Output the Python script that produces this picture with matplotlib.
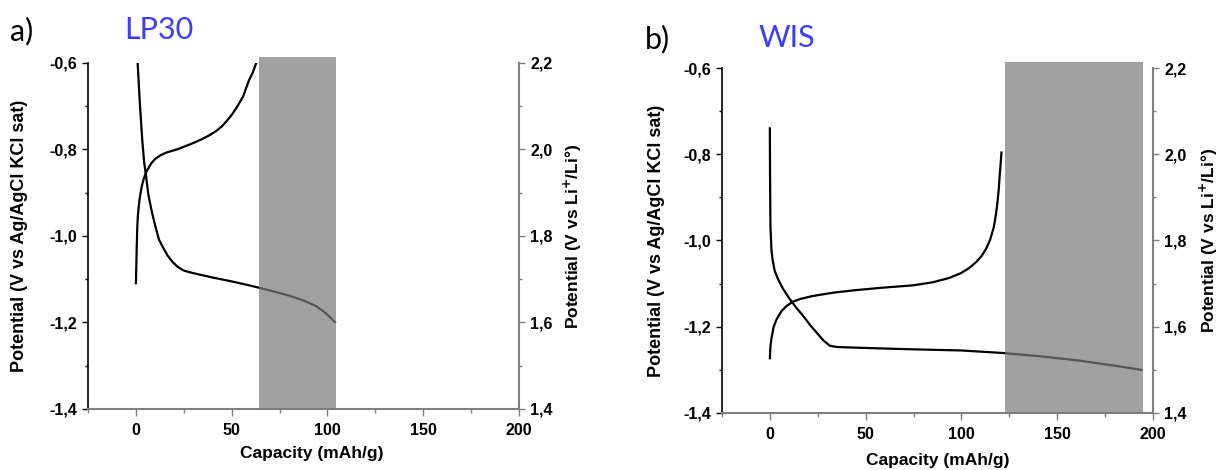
import matplotlib
matplotlib.use("Agg")
import matplotlib.pyplot as plt
from matplotlib.ticker import FuncFormatter, MultipleLocator
from matplotlib.patches import Rectangle

# ---------------- data ----------------
# LP30 panel (a)
lp30_charge_cap = [0, 0.2, 0.4, 0.7, 1.0, 1.5, 2, 3, 4, 5, 6, 8, 10, 13, 16, 19, 22, 26, 30,
                   34, 38, 42, 45, 48, 50, 53, 56, 59, 61, 62.8]
lp30_charge_pot = [-1.109, -1.07, -1.03, -0.98, -0.955, -0.93, -0.912, -0.886, -0.869, -0.856,
                   -0.847, -0.832, -0.822, -0.813, -0.807, -0.803, -0.799, -0.792, -0.785,
                   -0.777, -0.768, -0.757, -0.746, -0.731, -0.720, -0.700, -0.677, -0.640,
                   -0.622, -0.600]
lp30_dis_cap = [0.9, 2.0, 3.3, 4.3, 5.1, 6.5, 8.5, 10, 12, 14.2, 16.5, 19.3, 22, 25, 30, 40,
                50, 60, 70, 80, 88, 94, 99, 103.9]
lp30_dis_pot = [-0.600, -0.690, -0.778, -0.830, -0.855, -0.905, -0.948, -0.975, -1.008, -1.027,
                -1.045, -1.061, -1.072, -1.080, -1.086, -1.096, -1.105, -1.115, -1.126, -1.138,
                -1.150, -1.162, -1.178, -1.199]
lp30_region = [64.5, 104.5]

# WIS panel (b)
wis_dis_cap = [0, 0.05, 0.1, 0.3, 0.8, 1.4, 2.5, 4.3, 7, 10.4, 14, 17.4, 21, 24.3, 28, 31.3, 35,
               48.6, 71.2, 100, 122, 140, 160.6, 181, 194]
wis_dis_pot = [-0.740, -0.800, -0.851, -0.967, -1.020, -1.044, -1.070, -1.090, -1.113, -1.136,
               -1.157, -1.175, -1.196, -1.213, -1.232, -1.244, -1.247, -1.249, -1.252, -1.255,
               -1.261, -1.268, -1.278, -1.291, -1.300]
wis_charge_cap = [0, 0.3, 0.9, 2, 3.5, 6, 8.7, 12, 15.6, 22, 33, 45, 57.3, 74.7, 85, 93.5, 99.6,
                  104, 107.7, 110.5, 112.8, 115, 116.9, 118, 118.9, 119.5, 119.9, 120.5, 120.9]
wis_charge_pot = [-1.273, -1.245, -1.225, -1.200, -1.183, -1.164, -1.152, -1.142, -1.136,
                  -1.129, -1.121, -1.115, -1.110, -1.104, -1.097, -1.087, -1.076, -1.064,
                  -1.050, -1.036, -1.020, -0.998, -0.969, -0.940, -0.908, -0.880, -0.854,
                  -0.820, -0.796]
wis_region = [122.6, 195.0]

left_ylim = [-1.4, -0.6]
right_ylim = [1.4, 2.2]
xlim = [-25, 200]
xticks = [0, 50, 100, 150, 200]

panel_letters = ["a)", "b)"]
panel_names = ["LP30", "WIS"]

# ---------------- figure ----------------
fig = plt.figure(figsize=(12.21, 4.70), dpi=100)
plt.rcParams['font.family'] = ['Liberation Sans', 'DejaVu Sans']

comma = FuncFormatter(lambda v, p: f"{v:.1f}".replace(".", ","))
intfmt = FuncFormatter(lambda v, p: f"{v:.0f}")

axes_pos = [[0.0721, 0.1298, 0.3530, 0.7362], [0.5913, 0.1213, 0.3530, 0.7340]]
regions = [lp30_region, wis_region]
curves = [
    [(lp30_charge_cap, lp30_charge_pot), (lp30_dis_cap, lp30_dis_pot)],
    [(wis_charge_cap, wis_charge_pot), (wis_dis_cap, wis_dis_pot)],
]
rect_tops = [-0.586, -0.585]
letter_pos = [(0.008, 0.934), (0.528, 0.917)]
name_pos = [(0.102, 0.936), (0.621, 0.920)]
xlabel_xy = [(0.52, -0.107), (0.50, -0.116)]
ylabel_left_x = [-0.139, -0.133]
ylabel_right_x = [1.10, 1.104]

grey = "#7f7f7f"
tick_fs = 11.5
for i in range(2):
    ax = fig.add_axes(axes_pos[i])
    for cap, pot in curves[i]:
        ax.plot(cap, pot, color="black", lw=1.6, zorder=2)
    r0, r1 = regions[i]
    ax.add_patch(Rectangle((r0, left_ylim[0]), r1 - r0, rect_tops[i] - left_ylim[0],
                           facecolor="#7a7a7a", alpha=0.7, edgecolor="none",
                           zorder=3, clip_on=False))
    ax.set_xlim(xlim)
    ax.set_ylim(left_ylim)
    ax.set_xticks(xticks)
    ax.xaxis.set_minor_locator(MultipleLocator(25))
    ax.yaxis.set_major_locator(MultipleLocator(0.2))
    ax.yaxis.set_minor_locator(MultipleLocator(0.1))
    ax.yaxis.set_major_formatter(comma)
    ax.xaxis.set_major_formatter(intfmt)
    ax.spines['top'].set_visible(False)
    ax.spines['right'].set_visible(False)
    ax.spines['left'].set_color("black")
    ax.spines['bottom'].set_color(grey)
    ax.spines['left'].set_linewidth(1.2)
    ax.spines['bottom'].set_linewidth(1.5)
    ax.tick_params(axis='y', which='major', length=4, width=1, direction='out',
                   labelsize=tick_fs, color='black', pad=4)
    ax.tick_params(axis='y', which='minor', length=2.5, width=1, direction='out', color='black')
    ax.tick_params(axis='x', which='major', length=5, width=1, direction='out',
                   labelsize=tick_fs, color=grey, pad=5)
    ax.tick_params(axis='x', which='minor', length=3, width=1, direction='out', color=grey)
    for lab in ax.get_xticklabels() + ax.get_yticklabels():
        lab.set_fontweight('bold')
    ax.set_xlabel("Capacity (mAh/g)", fontsize=12.5, fontweight='bold')
    ax.xaxis.set_label_coords(*xlabel_xy[i])
    ax.set_ylabel("Potential (V vs Ag/AgCl KCl sat)", fontsize=13, fontweight='bold')
    ax.yaxis.set_label_coords(ylabel_left_x[i], 0.5)

    ax2 = ax.twinx()
    ax2.set_ylim(right_ylim)
    ax2.yaxis.set_major_locator(MultipleLocator(0.2))
    ax2.yaxis.set_minor_locator(MultipleLocator(0.1))
    ax2.yaxis.set_major_formatter(comma)
    for s in ['top', 'left', 'bottom']:
        ax2.spines[s].set_visible(False)
    ax2.spines['right'].set_color(grey)
    ax2.spines['right'].set_linewidth(1.5)
    ax2.tick_params(axis='y', which='major', length=4, width=1, direction='out',
                    labelsize=tick_fs, color=grey, pad=4)
    ax2.tick_params(axis='y', which='minor', length=2.5, width=1, direction='out', color=grey)
    for lab in ax2.get_yticklabels():
        lab.set_fontweight('bold')
    ax2.set_ylabel("Potential (V vs Li$^{\\mathbf{+}}$/Li°)", fontsize=12.5, fontweight='bold')
    ax2.yaxis.set_label_coords(ylabel_right_x[i], 0.5)

    fig.text(letter_pos[i][0], letter_pos[i][1], panel_letters[i], fontsize=22,
             family=['Lato', 'DejaVu Sans'], va='center', ha='left')
    fig.text(name_pos[i][0], name_pos[i][1], panel_names[i], fontsize=22, color="#3d3dff",
             family=['Lato', 'DejaVu Sans'], va='center', ha='left')

fig.savefig("out.png", dpi=100)
